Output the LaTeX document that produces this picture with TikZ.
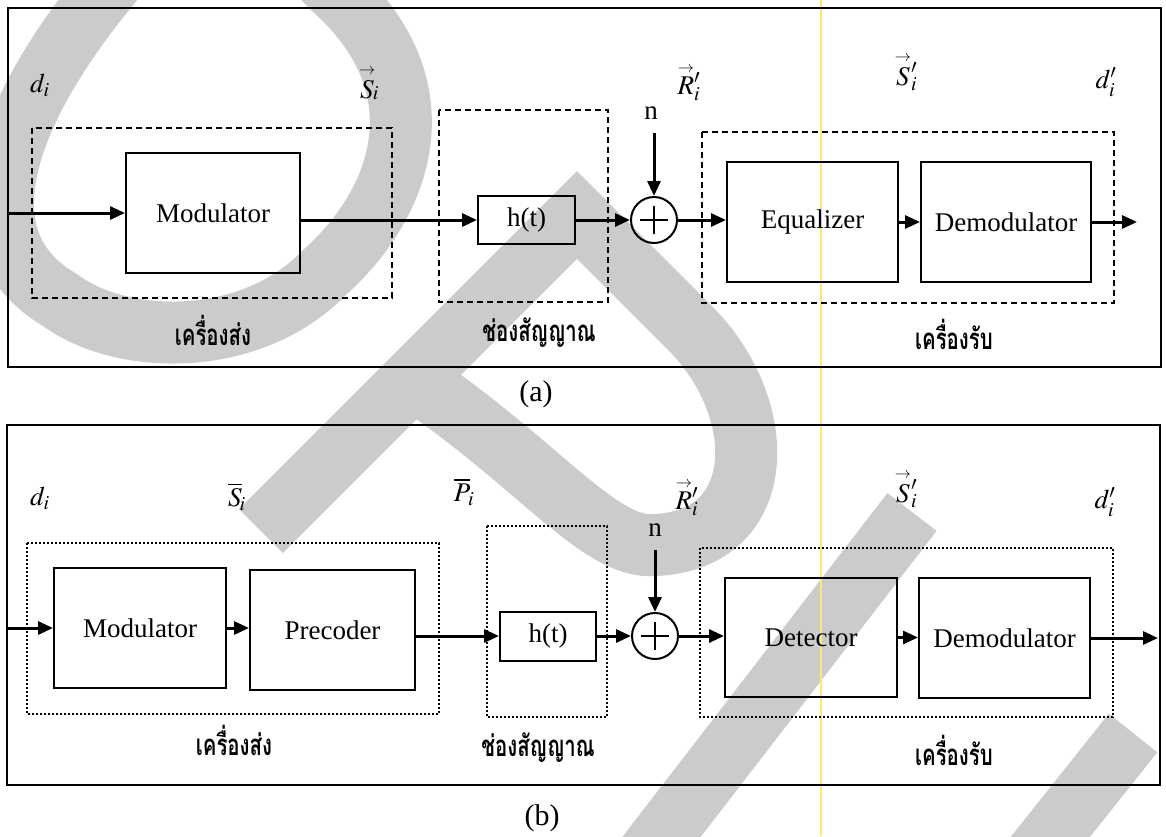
\documentclass[tikz,border=0pt]{standalone}
\usepackage{mathptmx}
\usepackage{fontspec}
\setmainfont{Liberation Serif}
\newfontfamily\thaifont[Script=Thai]{Loma}
\usetikzlibrary{arrows.meta}
\definecolor{wmgray}{RGB}{203,203,203}
\definecolor{scanyellow}{RGB}{246,236,110}
% small vector arrow set over a letter
\newcommand{\vecbar}[1]{\mathord{\stackrel{\scriptscriptstyle\rightarrow}{#1}}}
% Thai captions: tall, slightly narrowed
\newcommand{\thaicap}[1]{\scalebox{0.97}[1.4]{#1}}
\begin{document}
\begin{tikzpicture}[x=1pt,y=-1pt,
  mlbl/.style={font=\fontsize{27}{30}\selectfont, inner sep=0pt},
  thai/.style={font=\thaifont\bfseries\fontsize{21}{24}\selectfont, inner sep=0pt},
  blk/.style={draw, line width=2pt, inner sep=0pt, font=\fontsize{27}{30}\selectfont},
  sumnode/.style={draw, circle, line width=2pt, minimum size=46pt, inner sep=0pt},
  sig/.style={line width=3pt, -{Triangle[length=15pt,width=13pt]}},
  frame/.style={line width=1.6pt},
  dashbox/.style={line width=1.6pt, dash pattern=on 6pt off 4pt},
  dotbox/.style={line width=2.4pt, dash pattern=on 2.2pt off 1.8pt},
  wm/.style={draw=wmgray, line width=62pt}
]
\useasboundingbox (0,0) rectangle (1166,836);
\fill[white] (0,0) rectangle (1166,836);

% background strokes
\draw[wm] (140,-50) .. controls (30,70) and (-60,230) .. (60,300)
  .. controls (120,345) and (250,350) .. (325,272)
  .. controls (400,205) and (445,90) .. (335,-10) -- (305,-40);
\draw[wm, line join=miter] (261,531) -- (577,215) -- (690,328)
  .. controls (770,408) and (770,540) .. (655,545)
  .. controls (600,550) and (540,465) .. (413,379);
\draw[wm] (912,512) -- (636,870);
\draw[wm] (1133,733) -- (1024,870);

% thin vertical trace
\draw[scanyellow, line width=1.5pt] (821,0) -- (821,836);

% ---------------- (a) ----------------
\draw[frame] (8,8) rectangle (1161,367);
\draw[dashbox] (32,128) rectangle (392,298);
\draw[dashbox] (439,110) rectangle (608,302);
\draw[dashbox] (702,132) rectangle (1114,303);

\node[blk, minimum width=174pt, minimum height=120pt] (moda) at (213,213) {Modulator};
\node[blk, minimum width=97pt, minimum height=48pt] (hta) at (526.5,220) {h(t)};
\node[sumnode] (suma) at (654,220) {};
\draw[line width=1.5pt] ([xshift=-14pt]suma.center) -- ([xshift=14pt]suma.center);
\draw[line width=1.5pt] ([yshift=-14pt]suma.center) -- ([yshift=14pt]suma.center);
\node[blk, minimum width=171pt, minimum height=120pt] (eqa) at (812.5,222) {Equalizer};
\node[blk, minimum width=170pt, minimum height=120pt] (dma) at (1006,222) {Demodulator};

\coordinate (ina) at (8,213);
\coordinate (outa) at (1137,222);
\coordinate (noisea) at (654,133);

\draw[sig] (ina) -- (moda.west);
\draw[sig] (hta.west -| moda.east) -- (hta.west);
\draw[sig] (hta.east) -- (suma.west);
\draw[sig] (noisea) -- (suma.north);
\draw[sig] (suma.east) -- (suma.east -| eqa.west);
\draw[sig] (eqa.east) -- (dma.west);
\draw[sig] (dma.east) -- (outa);

\node[mlbl] (da) at (40,85) {$d_i$};
\node[mlbl] (sa) at (369,83) {$\vecbar{S}_{\!i}$};
\node[mlbl] (ra) at (689,82) {$\vecbar{R}{}_i^{\prime}$};
\node[mlbl] (na) at (651,113) {n};
\node[mlbl] (spa) at (906,72) {$\vecbar{S}{}_i^{\prime}$};
\node[mlbl] (dpa) at (1106,82) {$d_i^{\prime}$};

\node[thai] (txa) at (213,330) {\thaicap{เครื่องส่ง}};
\node[thai] (cha) at (539,333) {\thaicap{ช่องสัญญาณ}};
\node[thai] (rxa) at (954,334) {\thaicap{เครื่องรับ}};
\node[mlbl, font=\fontsize{30}{33}\selectfont] (capa) at (536,394) {(a)};

% ---------------- (b) ----------------
\draw[frame] (7,425) rectangle (1160,785);
\draw[dotbox] (27,543) rectangle (439,714);
\draw[dotbox] (487,526) rectangle (607,717);
\draw[dotbox] (700,548) rectangle (1113,717);

\node[blk, minimum width=172pt, minimum height=120pt] (modb) at (140,628) {Modulator};
\node[blk, minimum width=165pt, minimum height=120pt] (preb) at (332.5,630) {Precoder};
\node[blk, minimum width=96pt, minimum height=49pt] (htb) at (548,636) {h(t)};
\node[sumnode] (sumb) at (655,636) {};
\draw[line width=1.5pt] ([xshift=-14pt]sumb.center) -- ([xshift=14pt]sumb.center);
\draw[line width=1.5pt] ([yshift=-14pt]sumb.center) -- ([yshift=14pt]sumb.center);
\node[blk, minimum width=172pt, minimum height=119pt] (detb) at (811,637.5) {Detector};
\node[blk, minimum width=171pt, minimum height=120pt] (dmb) at (1004.5,638) {Demodulator};

\coordinate (inb) at (7,628);
\coordinate (outb) at (1158,638);
\coordinate (noiseb) at (655,550);

\draw[sig] (inb) -- (modb.west);
\draw[sig] (modb.east) -- (modb.east -| preb.west);
\draw[sig] (htb.west -| preb.east) -- (htb.west);
\draw[sig] (htb.east) -- (sumb.west);
\draw[sig] (noiseb) -- (sumb.north);
\draw[sig] (sumb.east) -- (sumb.east -| detb.west);
\draw[sig] (detb.east) -- (detb.east -| dmb.west);
\draw[sig] (dmb.east) -- (outb);

\node[mlbl] (db) at (40,498) {$d_i$};
\node[mlbl] (sb) at (237,497) {$\overline{S}_{\!i}$};
\node[mlbl] (pb) at (464,492) {$\overline{P}_{\!i}$};
\node[mlbl] (rb) at (687,497) {$\vecbar{R}{}_i^{\prime}$};
\node[mlbl] (nb) at (655,530) {n};
\node[mlbl] (spb) at (906,489) {$\vecbar{S}{}_i^{\prime}$};
\node[mlbl] (dpb) at (1105,502) {$d_i^{\prime}$};

\node[thai] (txb) at (234,740) {\thaicap{เครื่องส่ง}};
\node[thai] (chb) at (538,748) {\thaicap{ช่องสัญญาณ}};
\node[thai] (rxb) at (954,750) {\thaicap{เครื่องรับ}};
\node[mlbl, font=\fontsize{30}{33}\selectfont] (capb) at (542,818) {(b)};
\end{tikzpicture}
\end{document}
